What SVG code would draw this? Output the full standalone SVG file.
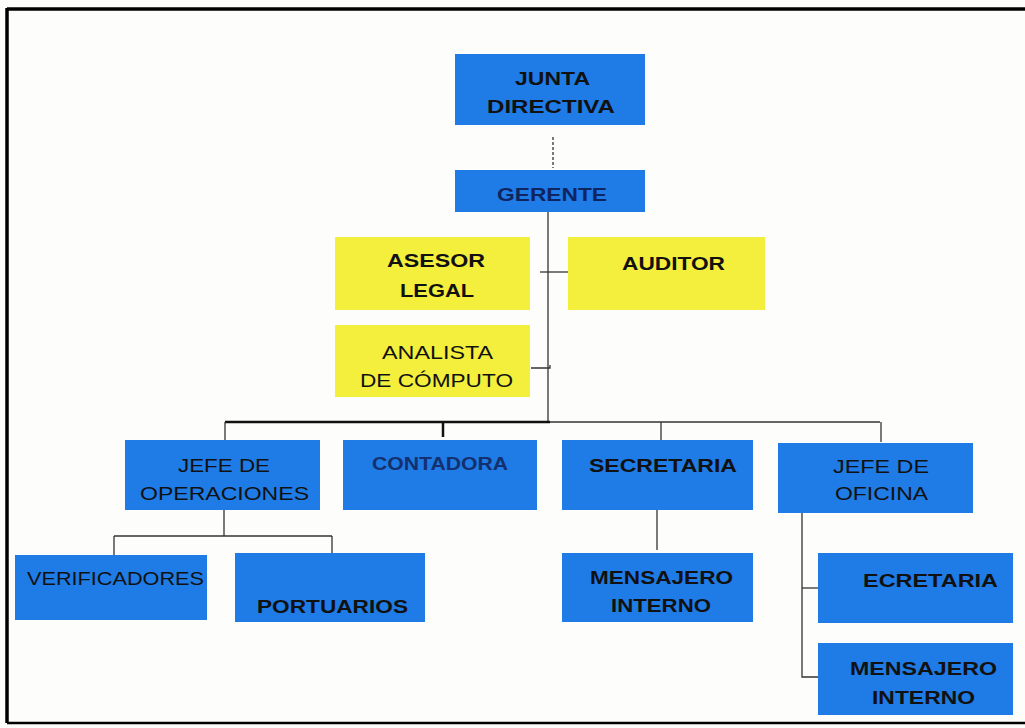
<svg xmlns="http://www.w3.org/2000/svg" width="1025" height="728" viewBox="0 0 1025 728">
<style>
.b{fill:#1f7be6}
.y{fill:#f3ef3c}
text{font-family:"Liberation Sans",Arial,sans-serif;font-size:18px;fill:#111;text-anchor:start}
.r{font-weight:normal}
.bd{font-weight:bold}
.ln{stroke:#333;stroke-width:1.3;fill:none}
.lk{stroke:#111;stroke-width:2.5;fill:none}
</style>
<rect width="1025" height="728" fill="#fdfdfb"/>
<g id="frame">
<path d="M7 9 H1025" stroke="#000" stroke-width="3.5"/>
<path d="M7 8 V723" stroke="#000" stroke-width="3.5"/>
<path d="M7 723 H1025" stroke="#000" stroke-width="2.5"/>
</g>
<g id="connectors">
<path class="ln" d="M553 137 V168" stroke-dasharray="3,2"/>
<path class="ln" d="M548 210 V422"/>
<path class="ln" d="M540 272 H568"/>
<path class="ln" d="M531 368 H550 V365"/>
<path class="lk" d="M225 422 H550"/>
<path class="ln" d="M550 422 H880" stroke-width="1.8"/>
<path class="ln" d="M225 422 V440"/>
<path class="lk" d="M443 422 V437"/>
<path class="ln" d="M661 422 V440"/>
<path class="ln" d="M881 422 V442"/>
<path class="ln" d="M224 510 V536"/>
<path class="ln" d="M114 536 H332"/>
<path class="ln" d="M114 536 V555"/>
<path class="ln" d="M332 536 V553"/>
<path class="ln" d="M657 510 V550"/>
<path class="ln" d="M802 513 V677 H820"/>
<path class="ln" d="M802 588 H818" stroke="#999"/>
</g>
<g id="junta"><rect class="b" x="455" y="54" width="190" height="71"/>
<text class="bd" x="515" y="85" textLength="75" lengthAdjust="spacingAndGlyphs">JUNTA</text>
<text class="bd" x="487" y="113" textLength="128" lengthAdjust="spacingAndGlyphs">DIRECTIVA</text></g>
<g id="gerente"><rect class="b" x="455" y="170" width="190" height="42"/>
<text class="bd" x="497" y="201" textLength="110" lengthAdjust="spacingAndGlyphs" style="fill:#0f2560">GERENTE</text></g>
<g id="asesor"><rect class="y" x="335" y="237" width="195" height="73"/>
<text class="bd" x="387" y="267" textLength="98" lengthAdjust="spacingAndGlyphs">ASESOR</text>
<text class="bd" x="400" y="297" textLength="74" lengthAdjust="spacingAndGlyphs">LEGAL</text></g>
<g id="auditor"><rect class="y" x="568" y="237" width="197" height="73"/>
<text class="bd" x="622" y="270" textLength="103" lengthAdjust="spacingAndGlyphs">AUDITOR</text></g>
<g id="analista"><rect class="y" x="335" y="325" width="195" height="72"/>
<text class="r" x="382" y="359" textLength="111" lengthAdjust="spacingAndGlyphs">ANALISTA</text>
<text class="r" x="360" y="387" textLength="153" lengthAdjust="spacingAndGlyphs">DE CÓMPUTO</text></g>
<g id="jefe-operaciones"><rect class="b" x="125" y="440" width="195" height="70"/>
<text class="r" x="178" y="472" textLength="92" lengthAdjust="spacingAndGlyphs">JEFE DE</text>
<text class="r" x="140" y="500" textLength="169" lengthAdjust="spacingAndGlyphs">OPERACIONES</text></g>
<g id="contadora"><rect class="b" x="343" y="440" width="194" height="70"/>
<text class="bd" x="372" y="470" textLength="136" lengthAdjust="spacingAndGlyphs" style="fill:#14306e">CONTADORA</text></g>
<g id="secretaria"><rect class="b" x="562" y="440" width="191" height="70"/>
<text class="bd" x="589" y="472" textLength="148" lengthAdjust="spacingAndGlyphs">SECRETARIA</text></g>
<g id="jefe-oficina"><rect class="b" x="778" y="443" width="195" height="70"/>
<text class="r" x="833" y="473" textLength="96" lengthAdjust="spacingAndGlyphs">JEFE DE</text>
<text class="r" x="835" y="500" textLength="93" lengthAdjust="spacingAndGlyphs">OFICINA</text></g>
<g id="verificadores"><rect class="b" x="15" y="555" width="192" height="65"/>
<text class="r" x="27" y="585" textLength="177" lengthAdjust="spacingAndGlyphs">VERIFICADORES</text></g>
<g id="portuarios"><rect class="b" x="235" y="553" width="190" height="69"/>
<text class="bd" x="257" y="613" textLength="151" lengthAdjust="spacingAndGlyphs">PORTUARIOS</text></g>
<g id="mensajero-1"><rect class="b" x="562" y="553" width="191" height="69"/>
<text class="bd" x="590" y="584" textLength="143" lengthAdjust="spacingAndGlyphs">MENSAJERO</text>
<text class="bd" x="611" y="612" textLength="100" lengthAdjust="spacingAndGlyphs">INTERNO</text></g>
<g id="ecretaria"><rect class="b" x="818" y="553" width="195" height="70"/>
<text class="bd" x="863" y="587" textLength="135" lengthAdjust="spacingAndGlyphs">ECRETARIA</text></g>
<g id="mensajero-2"><rect class="b" x="818" y="643" width="195" height="72"/>
<text class="bd" x="850" y="675" textLength="147" lengthAdjust="spacingAndGlyphs">MENSAJERO</text>
<text class="bd" x="872" y="704" textLength="103" lengthAdjust="spacingAndGlyphs">INTERNO</text></g>
</svg>
